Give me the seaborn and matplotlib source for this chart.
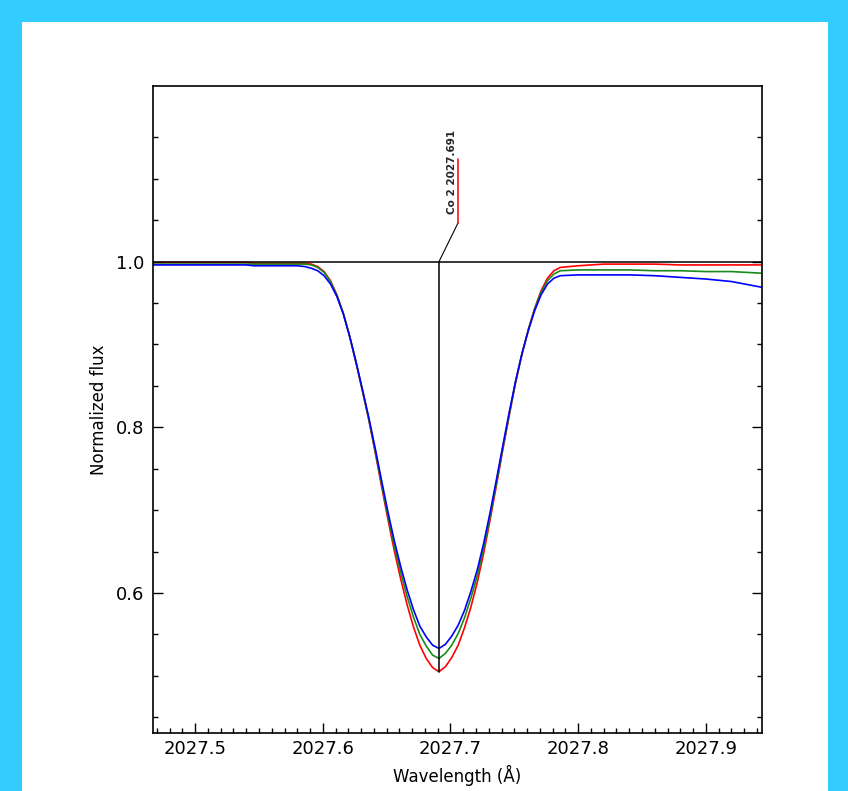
import numpy as np
import pandas as pd
import matplotlib
matplotlib.use('Agg')
import matplotlib.pyplot as plt
import seaborn as sns
from matplotlib.patches import Rectangle
from matplotlib.ticker import MultipleLocator, FixedLocator


# wavelength grid (A) and normalized flux
wave = [2027.467, 2027.540, 2027.546, 2027.580,
        2027.586, 2027.591, 2027.596, 2027.601, 2027.606, 2027.611, 2027.616,
        2027.621, 2027.626, 2027.631, 2027.636, 2027.641, 2027.646, 2027.651,
        2027.656, 2027.661, 2027.666, 2027.671, 2027.676, 2027.681, 2027.686,
        2027.691, 2027.696, 2027.701, 2027.706, 2027.711, 2027.716, 2027.721,
        2027.726, 2027.731, 2027.736, 2027.741, 2027.746, 2027.751, 2027.756,
        2027.761, 2027.766, 2027.771, 2027.776, 2027.781, 2027.786,
        2027.800, 2027.820, 2027.840, 2027.860, 2027.880, 2027.900, 2027.920, 2027.944]

flux_red = [0.999, 0.999, 0.998, 0.998,
            0.998, 0.997, 0.994, 0.988, 0.977, 0.960, 0.938, 0.910, 0.878, 0.844, 0.809,
            0.770, 0.729, 0.689, 0.651, 0.617, 0.586, 0.559, 0.537, 0.521, 0.510, 0.505,
            0.511, 0.522, 0.537, 0.558, 0.583, 0.613, 0.648, 0.688, 0.730, 0.773,
            0.814, 0.854, 0.888, 0.918, 0.944, 0.965, 0.980, 0.989, 0.993,
            0.995, 0.997, 0.997, 0.997, 0.996, 0.996, 0.996, 0.996]

flux_green = [0.997, 0.997, 0.997, 0.997,
              0.997, 0.996, 0.993, 0.987, 0.976, 0.959, 0.938, 0.910, 0.879, 0.845, 0.810,
              0.772, 0.732, 0.693, 0.657, 0.625, 0.596, 0.571, 0.550, 0.536, 0.525, 0.521,
              0.527, 0.537, 0.551, 0.570, 0.594, 0.621, 0.654, 0.692, 0.733, 0.775,
              0.816, 0.855, 0.889, 0.918, 0.943, 0.963, 0.977, 0.985, 0.989,
              0.990, 0.990, 0.990, 0.989, 0.989, 0.988, 0.988, 0.986]

flux_blue = [0.996, 0.996, 0.995, 0.995,
             0.994, 0.992, 0.989, 0.983, 0.973, 0.958, 0.937, 0.910, 0.879, 0.846, 0.812,
             0.775, 0.736, 0.698, 0.663, 0.632, 0.604, 0.580, 0.560, 0.547, 0.537, 0.533,
             0.538, 0.548, 0.561, 0.579, 0.602, 0.628, 0.660, 0.697, 0.737, 0.778,
             0.818, 0.856, 0.889, 0.917, 0.941, 0.960, 0.973, 0.980, 0.983,
             0.984, 0.984, 0.984, 0.983, 0.981, 0.979, 0.976, 0.969]

line_wave = 2027.691
line_label = 'Co 2 2027.691'

df = pd.concat([
    pd.DataFrame({'wave': wave, 'flux': flux_red, 'model': 'red'}),
    pd.DataFrame({'wave': wave, 'flux': flux_green, 'model': 'green'}),
    pd.DataFrame({'wave': wave, 'flux': flux_blue, 'model': 'blue'}),
])

sns.set_theme(style='white')
plt.rcParams['font.family'] = ['DejaVu Sans']

fig = plt.figure(figsize=(8.48, 7.91), dpi=100)
fig.patch.set_facecolor('#33ccff')
# white panel inside the cyan frame
fig.patches.append(Rectangle((22 / 848, 0), 806 / 848, 769 / 791, transform=fig.transFigure,
                             facecolor='white', edgecolor='none', zorder=-5))

ax = fig.add_axes([153 / 848, 1 - 733 / 791, 609 / 848, 647 / 791])
ax.set_zorder(2)
ax.set_facecolor('none')

sns.lineplot(data=df, x='wave', y='flux', hue='model',
             palette={'red': '#ff0000', 'green': '#1a8a1a', 'blue': '#0000ff'},
             estimator=None, linewidth=1.2, legend=False, ax=ax)

ax.axhline(1.0, color='black', lw=1.1)
ax.plot([line_wave, line_wave], [min(flux_red), 1.0], color='black', lw=1.1)
ax.plot([line_wave, 2027.706], [1.0, 1.047], color='black', lw=0.8)
ax.plot([2027.706, 2027.706], [1.047, 1.124], color='red', lw=1.1)
ax.text(2027.7015, 1.058, line_label, rotation=90, fontsize=7.5, fontweight='bold',
        ha='center', va='bottom')

ax.set_xlim(2027.467, 2027.944)
ax.set_ylim(0.431, 1.212)

ax.xaxis.set_major_locator(MultipleLocator(0.1))
ax.xaxis.set_minor_locator(MultipleLocator(0.01))
ax.xaxis.set_major_formatter(matplotlib.ticker.FormatStrFormatter('%.1f'))
ax.yaxis.set_major_locator(FixedLocator([0.6, 0.8, 1.0]))
ax.yaxis.set_minor_locator(FixedLocator([0.45, 0.5, 0.55, 0.65, 0.7, 0.75, 0.85, 0.9, 0.95, 1.05, 1.1, 1.15]))
ax.yaxis.set_major_formatter(matplotlib.ticker.FormatStrFormatter('%.1f'))

ax.tick_params(axis='both', which='both', direction='in', colors='black', labelsize=13)
ax.tick_params(axis='x', which='both', bottom=True, top=False)
ax.tick_params(axis='y', which='both', left=True, right=True)
ax.tick_params(which='major', length=7, width=1)
ax.tick_params(which='minor', length=3.5, width=1)
ax.tick_params(axis='x', pad=5)
ax.tick_params(axis='y', pad=6)

for s in ax.spines.values():
    s.set_color('black')
    s.set_linewidth(1.2)

ax.set_xlabel('Wavelength (Å)', fontsize=12, color='black', labelpad=5)
ax.set_ylabel('Normalized flux', fontsize=12, color='black', labelpad=6)

fig.savefig('out.png', dpi=100)
